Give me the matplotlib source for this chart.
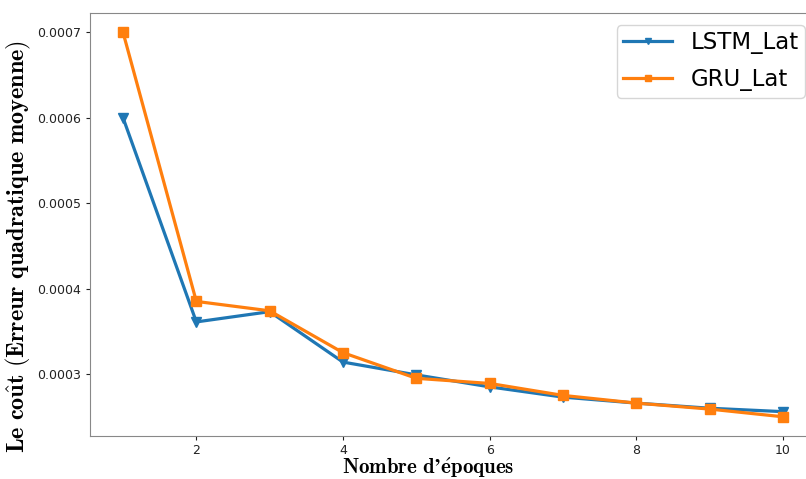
import matplotlib
matplotlib.use("Agg")
import matplotlib.pyplot as plt

# ===== DATA =====
epochs = [1, 2, 3, 4, 5, 6, 7, 8, 9, 10]
lstm_lat = [0.000600, 0.000361, 0.000373, 0.000314, 0.000299, 0.000285, 0.000273, 0.000266, 0.000260, 0.000256]
gru_lat = [0.000700, 0.000385, 0.000374, 0.000325, 0.000295, 0.000289, 0.000275, 0.000266, 0.000259, 0.000250]

plt.rcParams['mathtext.fontset'] = 'cm'

fig = plt.figure(figsize=(8.06, 4.79), dpi=100)
ax = fig.add_axes([90 / 806, 1 - 436 / 479, 726 / 806, 423 / 479])

ax.plot(epochs, lstm_lat, marker="v", markersize=6.5, linewidth=2.3, color="#1f77b4", label="LSTM_Lat")
ax.plot(epochs, gru_lat, marker="s", markersize=6.5, linewidth=2.3, color="#ff7f0e", label="GRU_Lat")

ax.set_xticks([2, 4, 6, 8, 10])
ax.set_yticks([0.0003, 0.0004, 0.0005, 0.0006, 0.0007])
ax.set_yticklabels(["0.0003", "0.0004", "0.0005", "0.0006", "0.0007"])
ax.tick_params(labelsize=9, colors="#222222", length=3)
ax.tick_params(axis="x", pad=2.5)

for s in ax.spines.values():
    s.set_color("#888888")

ax.set_xlabel(r"$\mathbf{Nombre\ d’\acute{e}poques}$", fontsize=15)
ax.xaxis.set_label_coords(0.4656, -0.047)
ax.set_ylabel(r"$\mathbf{Le\ co\hat{u}t\ (Erreur\ quadratique\ moyenne)}$", fontsize=17.5)
ax.yaxis.set_label_coords(-0.079, 0.449)

ax.legend(loc="upper right", fontsize=16.5, bbox_to_anchor=(805 / 806, 1 - 25 / 479),
          bbox_transform=fig.transFigure, borderaxespad=0, borderpad=0.28,
          labelspacing=0.6, handlelength=2.14, handletextpad=0.79, markerscale=0.75)

fig.savefig("out.png", dpi=100)
